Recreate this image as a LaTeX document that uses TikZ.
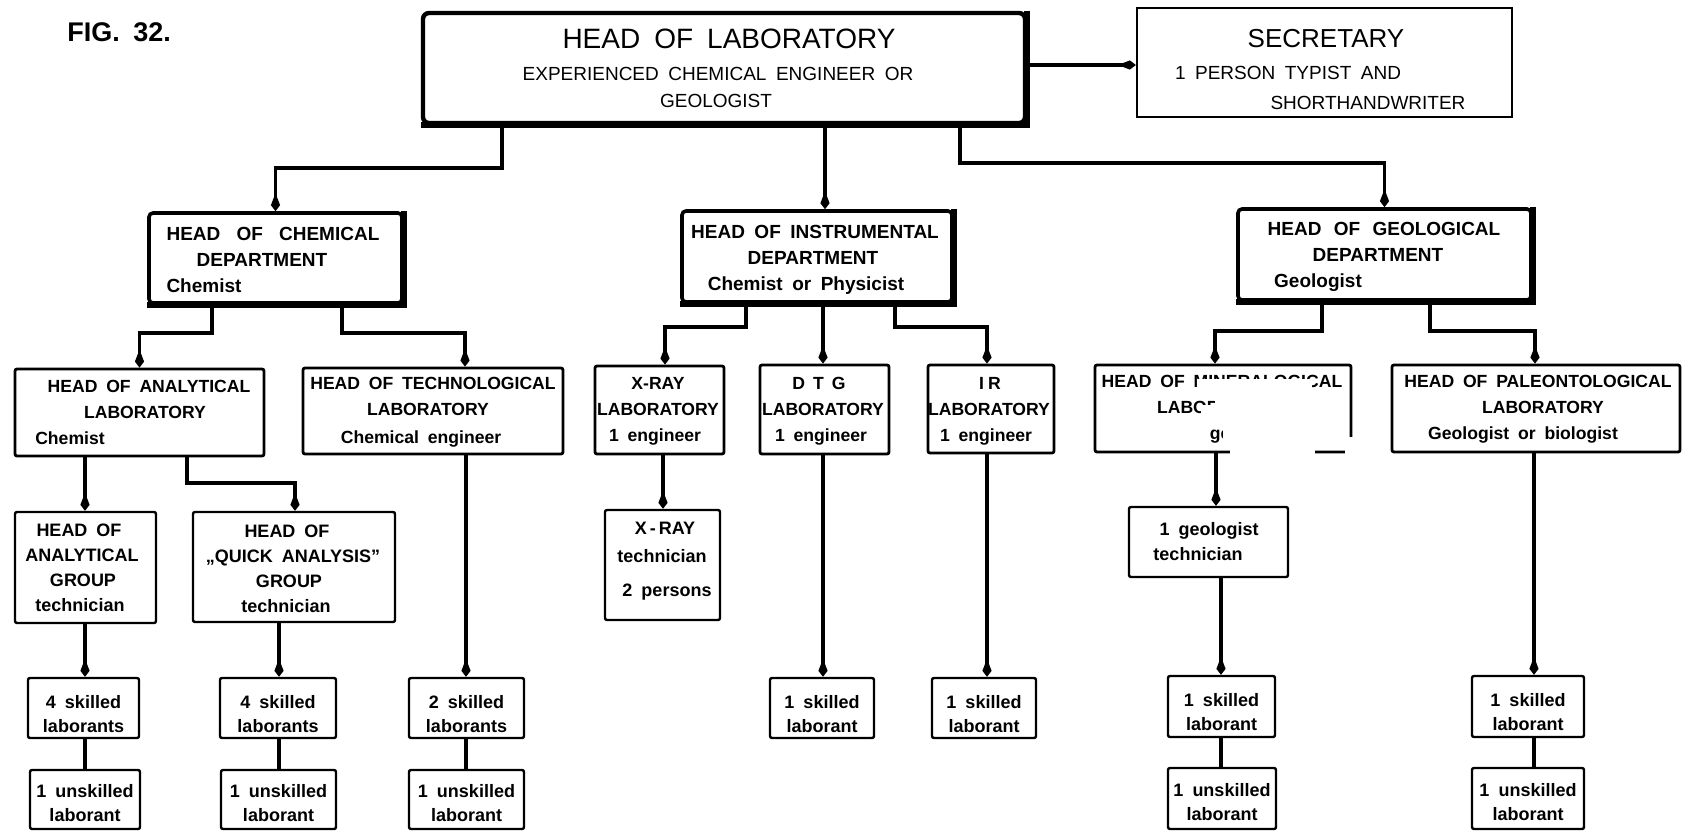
\documentclass[tikz,border=0pt]{standalone}
\usepackage{fontspec}
\setmainfont{Liberation Sans}[WordSpace=1.8]
\usetikzlibrary{arrows.meta}

% one drawing unit = 0.5pt; a line of text can be nudged sideways
\newlength\pxu
\setlength\pxu{0.5pt}
\newcommand\offs[2]{\mbox{\kern#1\pxu#2\kern-#1\pxu}}
\newcommand\wsp[1]{\hspace{#1em}}

% a box given by its left, top, right and bottom edges
\newcommand\orgbox[6][]{%
  \node[box,#1,minimum width={(#5-#3)*0.5pt},minimum height={(#6-#4)*0.5pt}]
    (#2) at ({(#3+#5)/2},{(#4+#6)/2}) {};}

\newcommand\fTop{\fontsize{9.5}{13.5}\selectfont}
\newcommand\fSec{\fontsize{9.5}{15}\selectfont}
\newcommand\fDept{\fontsize{9.5}{13}\selectfont\bfseries}
\newcommand\fLab{\fontsize{8.8}{13}\selectfont\bfseries}
\newcommand\fGrp{\fontsize{9}{12.5}\selectfont\bfseries}
\newcommand\fSmall{\fontsize{9}{12}\selectfont\bfseries}

\begin{document}
\begin{tikzpicture}[x=0.5pt,y=-0.5pt,
  box/.style={draw, line width=1.2pt, inner sep=0pt, rounded corners=1pt},
  headbox/.style={box, line width=2.2pt, rounded corners=3pt},
  deptbox/.style={box, line width=1.8pt, rounded corners=2pt},
  labbox/.style={box, line width=1.4pt},
  smallbox/.style={box, line width=1.2pt},
  secbox/.style={box, line width=1.1pt, rounded corners=0pt},
  txt/.style={inner sep=0pt, align=center, anchor=north},
  conn/.style={line width=1.7pt},
  arr/.style={conn, -{Kite[length=9pt,width=4.6pt,inset=6pt]}},
]
\fill[white] (0,0) rectangle (1683,832);
\useasboundingbox (0,0) rectangle (1683,832);

\node[anchor=base west, inner sep=0pt, font=\fontsize{13.5}{16}\selectfont\bfseries]
  (fig) at (67,41) {FIG. 32.};

% ---- boxes ----
\orgbox[headbox]{head}{423}{13}{1025}{123}
\orgbox[secbox]{sec}{1137}{8}{1512}{117}
\orgbox[deptbox]{chem}{149}{213}{402}{303}
\orgbox[deptbox]{instr}{682}{211}{952}{302}
\orgbox[deptbox]{geol}{1238}{209}{1531}{300}
\orgbox[labbox]{anal}{15}{369}{264}{456}
\orgbox[labbox]{tech}{303}{368}{563}{454}
\orgbox[labbox]{xray}{595}{366}{724}{454}
\orgbox[labbox]{dtg}{760}{365}{889}{454}
\orgbox[labbox]{ir}{928}{365}{1054}{453}
\orgbox[labbox]{mine}{1095}{365}{1351}{452}
\orgbox[labbox]{paleo}{1392}{365}{1680}{452}
\orgbox[smallbox]{agrp}{15}{512}{156}{623}
\orgbox[smallbox]{quick}{193}{512}{395}{622}
\orgbox[smallbox]{xtech}{605}{510}{720}{620}
\orgbox[smallbox]{gtech}{1129}{507}{1288}{577}
\orgbox[smallbox]{s1}{28}{678}{139}{738}
\orgbox[smallbox]{s2}{220}{678}{336}{738}
\orgbox[smallbox]{s3}{409}{678}{524}{738}
\orgbox[smallbox]{s4}{770}{678}{874}{738}
\orgbox[smallbox]{s5}{932}{678}{1036}{738}
\orgbox[smallbox]{s6}{1168}{676}{1275}{737}
\orgbox[smallbox]{s7}{1472}{676}{1584}{737}
\orgbox[smallbox]{u1}{30}{770}{140}{829}
\orgbox[smallbox]{u2}{221}{770}{336}{829}
\orgbox[smallbox]{u3}{409}{770}{524}{829}
\orgbox[smallbox]{u6}{1168}{768}{1276}{829}
\orgbox[smallbox]{u7}{1472}{768}{1584}{829}

% heavier lower and right edges of the upper boxes
\draw[line width=3pt] (head.south west) -- (head.south east) -- (head.north east);
\foreach \b in {chem,instr,geol}
  \draw[line width=2.8pt] (\b.south west) -- (\b.south east) -- (\b.north east);

% ---- texts ----
\node[txt, font=\fTop] (head-t) at (724,29)
  {{\fontsize{14}{16}\selectfont\offs{5}{HEAD OF LABORATORY}}\\[2.5pt]%
   \offs{-6}{EXPERIENCED CHEMICAL ENGINEER OR}\\\offs{-8}{GEOLOGIST}};
\node[txt, font=\fSec] (sec-t) at (1325,28.5)
  {{\fontsize{13}{16}\selectfont\offs{1}{SECRETARY}}\\[1pt]%
   \offs{-37}{1 PERSON TYPIST AND}\\\offs{43}{SHORTHANDWRITER}};

\node[txt, font=\fDept] (chem-t) at (275,226.5)
  {\offs{-2}{HEAD\wsp{0.85}OF\wsp{0.85}CHEMICAL}\\\offs{-13}{DEPARTMENT}\\\offs{-71}{Chemist}};
\node[txt, font=\fDept] (instr-t) at (817,224.5)
  {\offs{-2}{HEAD OF INSTRUMENTAL}\\\offs{-4}{DEPARTMENT}\\\offs{-11}{Chemist or Physicist}};
\node[txt, font=\fDept] (geol-t) at (1384,221.5)
  {\offs{0}{HEAD\wsp{0.65}OF\wsp{0.65}GEOLOGICAL}\\\offs{-6}{DEPARTMENT}\\\offs{-66}{Geologist}};

\node[txt, font=\fLab] (anal-t) at (140,380)
  {\offs{9}{HEAD OF ANALYTICAL}\\\offs{5}{LABORATORY}\\\offs{-70}{Chemist}};
\node[txt, font=\fLab] (tech-t) at (433,377)
  {\offs{0}{HEAD OF TECHNOLOGICAL}\\\offs{-5}{LABORATORY}\\[1pt]\offs{-12}{Chemical engineer}};
\node[txt, font=\fLab] (xray-t) at (659,377)
  {\offs{-1}{X-RAY}\\\offs{-1}{LABORATORY}\\\offs{-4}{1 engineer}};
\node[txt, font=\fLab] (dtg-t) at (824,377)
  {\offs{-5}{D\hspace{4pt}T\hspace{4pt}G}\\\offs{-1}{LABORATORY}\\\offs{-3}{1 engineer}};
\node[txt, font=\fLab] (ir-t) at (991,377)
  {\offs{-1}{I\hspace{2pt}R}\\\offs{-2}{LABORATORY}\\\offs{-5}{1 engineer}};
\node[txt, font=\fLab] (mine-t) at (1223,375)
  {\offs{-1}{HEAD OF MINERALOGICAL}\\\offs{-5}{LABORATORY}\\\offs{26}{geologist}};
\node[txt, font=\fLab] (paleo-t) at (1538,375)
  {\offs{0}{HEAD OF PALEONTOLOGICAL}\\\offs{5}{LABORATORY}\\\offs{-15}{Geologist or biologist}};

\node[txt, font=\fGrp] (agrp-t) at (85,524)
  {\offs{-6}{HEAD OF}\\\offs{-3}{ANALYTICAL}\\\offs{-2}{GROUP}\\\offs{-5}{technician}};
\node[txt, font=\fGrp] (quick-t) at (294,525)
  {\offs{-7}{HEAD OF}\\\offs{-1}{„QUICK ANALYSIS”}\\\offs{-5}{GROUP}\\\offs{-8}{technician}};
\node[txt, font=\fontsize{9}{14}\selectfont\bfseries] (xtech-t) at (662,522)
  {\offs{3}{X\,-\,RAY}\\\offs{0}{technician}\\[3pt]\offs{5}{2 persons}};
\node[txt, font=\fGrp] (gtech-t) at (1205,522)
  {\offs{4}{1 geologist}\\\offs{-7}{technician}};

\node[txt, font=\fSmall] (s1-t) at (83.5,695) {4 skilled\\laborants};
\node[txt, font=\fSmall] (s2-t) at (278,695) {4 skilled\\laborants};
\node[txt, font=\fSmall] (s3-t) at (466.5,695) {2 skilled\\laborants};
\node[txt, font=\fSmall] (s4-t) at (822,695) {1 skilled\\laborant};
\node[txt, font=\fSmall] (s5-t) at (984,695) {1 skilled\\laborant};
\node[txt, font=\fSmall] (s6-t) at (1221.5,693) {1 skilled\\laborant};
\node[txt, font=\fSmall] (s7-t) at (1528,693) {1 skilled\\laborant};
\node[txt, font=\fSmall] (u1-t) at (85,784) {1 unskilled\\laborant};
\node[txt, font=\fSmall] (u2-t) at (278.5,784) {1 unskilled\\laborant};
\node[txt, font=\fSmall] (u3-t) at (466.5,784) {1 unskilled\\laborant};
\node[txt, font=\fSmall] (u6-t) at (1222,783) {1 unskilled\\laborant};
\node[txt, font=\fSmall] (u7-t) at (1528,783) {1 unskilled\\laborant};

% ---- connectors ----
\coordinate (jc) at (502,168);
\coordinate (ji) at (825,165);
\coordinate (jg) at (960,163);
\coordinate (js) at (1030,65);
\draw[arr] (head.south -| jc) -- (jc) -| (chem.north);
\draw[arr] (head.south -| ji) -- (instr.north -| ji);
\draw[arr] (head.south -| jg) -- (jg) -| (geol.north);
\draw[arr] (head.east |- js) -- (sec.west |- js);

\coordinate (ca) at (212,333);
\coordinate (cb) at (342,333);
\coordinate (cc) at (465,333);
\draw[arr] (chem.south -| ca) -- (ca) -| (anal.north);
\draw[arr] (chem.south -| cb) -- (cb) -- (cc) -- (tech.north -| cc);

\coordinate (ia) at (746,327);
\coordinate (ib) at (665,327);
\coordinate (ic) at (823,327);
\coordinate (id) at (895,327);
\coordinate (ie) at (987,327);
\draw[arr] (instr.south -| ia) -- (ia) -- (ib) -- (xray.north -| ib);
\draw[arr] (instr.south -| ic) -- (dtg.north -| ic);
\draw[arr] (instr.south -| id) -- (id) -- (ie) -- (ir.north -| ie);

\coordinate (ga) at (1322,331);
\coordinate (gb) at (1215,331);
\coordinate (gc) at (1430,331);
\coordinate (gd) at (1535,331);
\draw[arr] (geol.south -| ga) -- (ga) -- (gb) -- (mine.north -| gb);
\draw[arr] (geol.south -| gc) -- (gc) -- (gd) -- (paleo.north -| gd);

\coordinate (aa) at (85,483);
\coordinate (ab) at (187,483);
\coordinate (ac) at (295,483);
\coordinate (xa) at (663,483);
\coordinate (ma) at (1216,483);
\draw[arr] (anal.south -| aa) -- (agrp.north -| aa);
\draw[arr] (anal.south -| ab) -- (ab) -- (ac) -- (quick.north -| ac);
\draw[arr] (xray.south -| xa) -- (xtech.north -| xa);
\draw[arr] (mine.south -| ma) -- (gtech.north -| ma);

\coordinate (k1) at (85,650);
\coordinate (k2) at (279,650);
\coordinate (k3) at (466,650);
\coordinate (k4) at (823,650);
\coordinate (k5) at (987,650);
\coordinate (k6) at (1221,650);
\coordinate (k7) at (1534,650);
\draw[arr] (agrp.south -| k1) -- (s1.north -| k1);
\draw[arr] (quick.south -| k2) -- (s2.north -| k2);
\draw[arr] (tech.south -| k3) -- (s3.north -| k3);
\draw[arr] (dtg.south -| k4) -- (s4.north -| k4);
\draw[arr] (ir.south -| k5) -- (s5.north -| k5);
\draw[arr] (gtech.south -| k6) -- (s6.north -| k6);
\draw[arr] (paleo.south -| k7) -- (s7.north -| k7);

\draw[conn] (s1.south -| k1) -- (u1.north -| k1);
\draw[conn] (s2.south -| k2) -- (u2.north -| k2);
\draw[conn] (s3.south -| k3) -- (u3.north -| k3);
\draw[conn] (s6.south -| k6) -- (u6.north -| k6);
\draw[conn] (s7.south -| k7) -- (u7.north -| k7);

% worn-away patch on the mineralogical box
\fill[white] (1197,379) rectangle (1312,396);
\fill[white] (1215,396) rectangle (1342,405);
\fill[white] (1201,405) rectangle (1342,419);
\fill[white] (1223,419) rectangle (1342,446);
\fill[white] (1230,446) rectangle (1315,458);
\fill[white] (1345,437) rectangle (1358,458);
\end{tikzpicture}
\end{document}
